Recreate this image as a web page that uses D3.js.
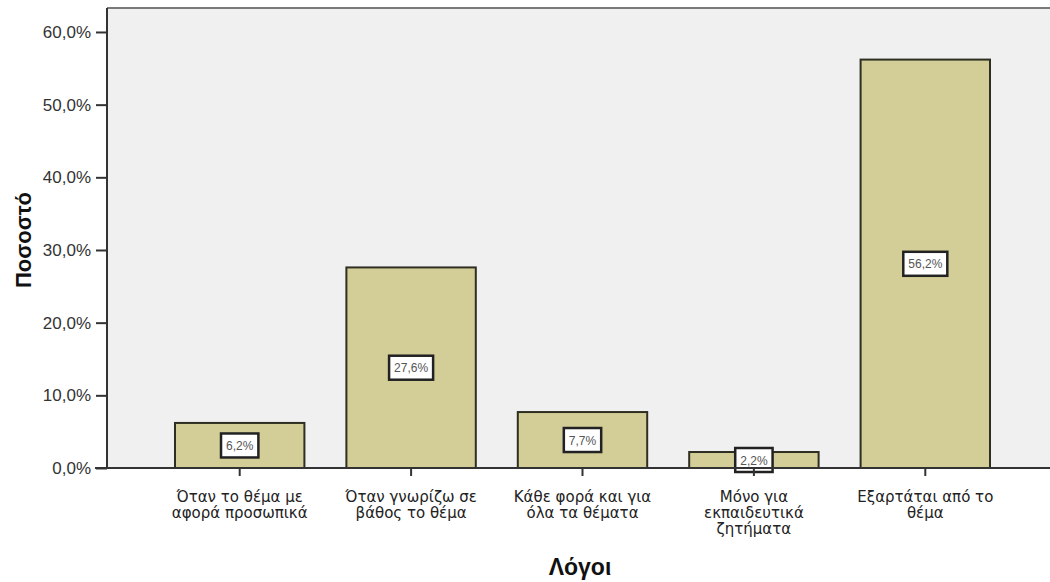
<!DOCTYPE html>
<html>
<head>
<meta charset="utf-8">
<script src="https://cdn.jsdelivr.net/npm/d3@7"></script>
<style>
  body { margin: 0; background: #fff; }
  svg { display: block; font-family: "Liberation Sans", Arial, sans-serif; }
</style>
</head>
<body>
<div id="chart"></div>
<script>
// data
const categories = [
  ["Όταν το θέμα με", "αφορά προσωπικά"],
  ["Όταν γνωρίζω σε", "βάθος το θέμα"],
  ["Κάθε φορά και για", "όλα τα θέματα"],
  ["Μόνο για", "εκπαιδευτικά", "ζητήματα"],
  ["Εξαρτάται από το", "θέμα"]
];
const values = [6.2, 27.6, 7.7, 2.2, 56.2];
const yTicks = [0, 10, 20, 30, 40, 50, 60];

const width = 1050, height = 582;
const plot = { left: 107, top: 8, right: 1070, bottom: 468 };

const locale = d3.formatLocale({ decimal: ",", thousands: ".", grouping: [3], currency: ["", "€"] });
const fmt = locale.format(".1f");

const svg = d3.select("#chart").append("svg")
  .attr("width", width)
  .attr("height", height);

let x = d3.scaleBand()
  .domain(d3.range(values.length))
  .range([154, 1011])
  .paddingInner(0.245)
  .paddingOuter(0.1225);

let y = d3.scaleLinear()
  .domain([0, 63.3])
  .range([plot.bottom, plot.top]);

// plot background
svg.append("rect")
  .attr("x", plot.left)
  .attr("y", plot.top)
  .attr("width", plot.right - plot.left)
  .attr("height", plot.bottom - plot.top)
  .attr("fill", "#f0f0f0");

// top border of frame
svg.append("line")
  .attr("x1", plot.left).attr("x2", plot.right)
  .attr("y1", plot.top).attr("y2", plot.top)
  .attr("stroke", "#7a7a7a")
  .attr("stroke-width", 2);

// bars
let bars = svg.selectAll("g.bar")
  .data(values)
  .enter()
  .append("g")
  .attr("class", "bar");

bars.append("rect")
  .attr("x", (d, i) => x(i))
  .attr("y", d => y(d))
  .attr("width", x.bandwidth())
  .attr("height", d => y(0) - y(d))
  .attr("fill", "#d3ce97")
  .attr("stroke", "#2e2e22")
  .attr("stroke-width", 2);

// value boxes in the middle of each bar
bars.each(function (d, i) {
  let g = d3.select(this);
  let cx = x(i) + x.bandwidth() / 2;
  let cy = (y(d) + y(0)) / 2;
  let label = fmt(d) + "%";
  let t = g.append("text")
    .attr("x", cx)
    .attr("y", cy + 4.5)
    .attr("text-anchor", "middle")
    .attr("font-size", 12)
    .attr("fill", "#555")
    .text(label);
  let w = t.node().getComputedTextLength() + 10;
  g.insert("rect", "text")
    .attr("x", cx - w / 2)
    .attr("y", cy - 12)
    .attr("width", w)
    .attr("height", 24)
    .attr("fill", "#fff")
    .attr("stroke", "#222")
    .attr("stroke-width", 2.5);
});

// y axis
let yAxis = svg.append("g")
  .attr("transform", "translate(" + plot.left + ",0)")
  .call(d3.axisLeft(y).tickValues(yTicks).tickSize(11).tickPadding(5).tickFormat(d => fmt(d) + "%"));
yAxis.select(".domain").attr("stroke", "#333").attr("stroke-width", 2)
  .attr("d", "M0," + plot.top + "V" + plot.bottom);
yAxis.selectAll(".tick line").attr("stroke", "#333").attr("stroke-width", 2);
yAxis.selectAll(".tick text").attr("font-size", 17).attr("fill", "#333")
  .attr("font-family", "Liberation Sans, Arial, sans-serif");

// x axis
let xAxis = svg.append("g")
  .attr("transform", "translate(0," + plot.bottom + ")")
  .call(d3.axisBottom(x).tickSize(8).tickFormat(""));
xAxis.select(".domain").attr("stroke", "#333").attr("stroke-width", 2)
  .attr("d", "M" + (plot.left - 12) + ",0H" + plot.right);
xAxis.selectAll(".tick line").attr("stroke", "#333").attr("stroke-width", 2);

// multi-line category labels
xAxis.selectAll(".tick").each(function (d, i) {
  let t = d3.select(this).append("text")
    .attr("text-anchor", "middle")
    .attr("fill", "#222")
    .attr("font-size", 15)
    .attr("font-family", "DejaVu Sans, sans-serif");
  categories[i].forEach((line, j) => {
    t.append("tspan").attr("x", 0).attr("y", 34 + j * 16).text(line);
  });
});

// axis titles
svg.append("text")
  .attr("x", 580)
  .attr("y", 575)
  .attr("text-anchor", "middle")
  .attr("font-size", 23)
  .attr("font-weight", "bold")
  .attr("fill", "#111")
  .text("Λόγοι");

svg.append("text")
  .attr("transform", "translate(31,240) rotate(-90)")
  .attr("text-anchor", "middle")
  .attr("font-size", 22)
  .attr("font-weight", "bold")
  .attr("fill", "#111")
  .text("Ποσοστό");
</script>
</body>
</html>
